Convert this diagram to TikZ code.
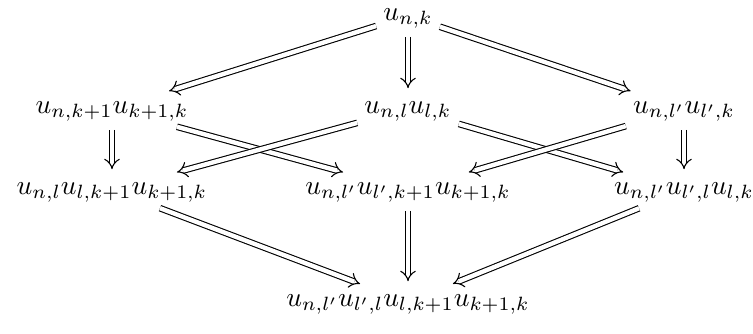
\documentclass[tikz,border=0pt]{standalone}
\usepackage{tikz}
\usepackage{amsmath}
\usetikzlibrary{arrows.meta, positioning}

\begin{document}
\begin{tikzpicture}[x=0.0128cm, y=-0.0128cm]
	\tikzstyle{term} = [inner xsep=1pt, inner ysep=2pt, text height=1.3ex, text depth=0.5ex]
	\tikzstyle{imp} = [draw, double, double distance=1.6pt, -{Implies}, shorten <=1.5pt, shorten >=1.5pt]

	\useasboundingbox (0,0) rectangle (753,333);

	\path
		node[term] (1) at (408,16) {$u_{n,k}$}
		node[term] (2) at (112,109) {$u_{n,k+1}u_{k+1,k}$}
		node[term] (3) at (408,109) {$u_{n,l}u_{l,k}$}
		node[term] (4) at (684,109) {$u_{n,l'}u_{l',k}$}
		node[term] (5) at (112,190) {$u_{n,l}u_{l,k+1}u_{k+1,k}$}
		node[term] (6) at (408,190) {$u_{n,l'}u_{l',k+1}u_{k+1,k}$}
		node[term] (7) at (684,190) {$u_{n,l'}u_{l',l}u_{l,k}$}
		node[term] (8) at (408,302) {$u_{n,l'}u_{l',l}u_{l,k+1}u_{k+1,k}$}

		(1) edge[imp] (2)
		(1) edge[imp] (3)
		(1) edge[imp] (4)
		(2) edge[imp] (5)
		(2) edge[imp] (6)
		(3) edge[imp] (5)
		(3) edge[imp] (7)
		(4) edge[imp] (6)
		(4) edge[imp] (7)
		(5) edge[imp] (8)
		(6) edge[imp] (8)
		(7) edge[imp] (8)
	;
\end{tikzpicture}
\end{document}
